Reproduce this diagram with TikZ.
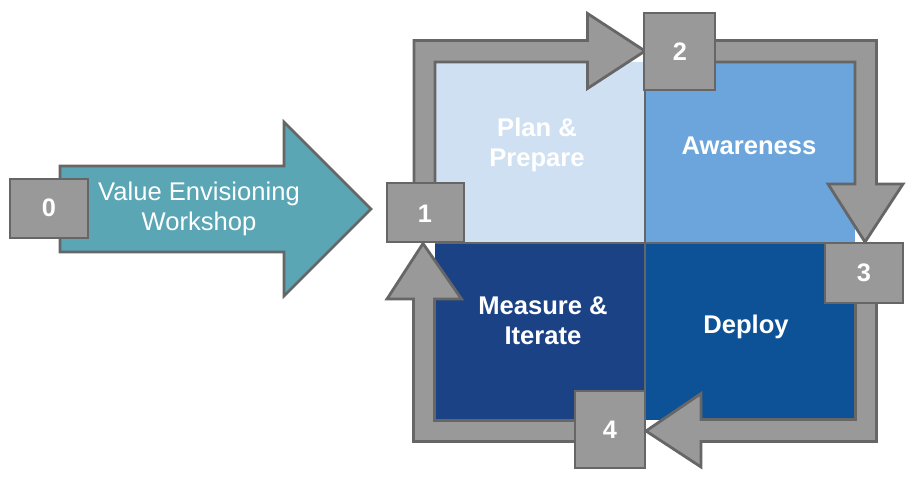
\documentclass[tikz,border=0pt]{standalone}
\usepackage{fontspec}
\setmainfont{Liberation Sans}
\definecolor{planc}{HTML}{CFE0F2}
\definecolor{awarec}{HTML}{6CA5DB}
\definecolor{deployc}{HTML}{0D5296}
\definecolor{measurec}{HTML}{1C4286}
\definecolor{tealc}{HTML}{5AA6B5}
\definecolor{greyc}{HTML}{999999}
\definecolor{edgec}{HTML}{666666}
\newcommand{\bx}[7]{\node[numbox,minimum width=#4*0.75pt,minimum height=#5*0.75pt] (#1) at (#2,#3) {};\node[numtext] (#6) at (#7) {#1};}
\tikzset{
  numbox/.style={draw=edgec,fill=greyc,line width=2.1pt,inner sep=0pt,rectangle},
  numtext/.style={text=white,font=\fontsize{19pt}{22pt}\selectfont\bfseries,inner sep=0pt},
  flow/.style={draw=edgec,fill=greyc,line width=2.1pt,line join=miter,miter limit=10},
  label/.style={text=white,font=\fontsize{19.2pt}{22.5pt}\selectfont\bfseries,align=center,inner sep=0pt},
  plainlabel/.style={text=white,font=\fontsize{19.2pt}{22.5pt}\selectfont,align=center,inner sep=0pt}
}
\begin{document}
\begin{tikzpicture}[x=0.75pt,y=-0.75pt]
\useasboundingbox (0,0) rectangle (913,484);
% quadrants
\fill[planc] (435,62) rectangle (645,243);
\fill[awarec] (645,62) rectangle (855,243);
\fill[measurec] (435,243) rectangle (645,420);
\fill[deployc] (645,243) rectangle (855,420);
\draw[edgec,line width=1.4pt] (645,62) -- (645,420);
\draw[edgec,line width=1.4pt] (435,243) -- (855,243);
% teal arrow
\draw[flow,fill=tealc] (60,166) -- (284,166) -- (284,122) -- (371,209) -- (284,296) -- (284,252) -- (60,252) -- cycle;
% loop arrows
\draw[flow] (414,190) -- (414,40.5) -- (587.5,40.5) -- (587.5,13.5) -- (645,51) -- (587.5,88.5) -- (587.5,62) -- (435,62) -- (435,190) -- cycle;
\draw[flow] (700,40.5) -- (876.5,40.5) -- (876.5,184) -- (903,184) -- (865,242) -- (828,184) -- (855,184) -- (855,62) -- (700,62) -- cycle;
\draw[flow] (876.5,295) -- (876.5,441.5) -- (701,441.5) -- (701,467) -- (646,431) -- (701,393.5) -- (701,419.5) -- (855.5,419.5) -- (855.5,295) -- cycle;
\draw[flow] (590,441.5) -- (413.5,441.5) -- (413.5,299) -- (387,299) -- (423,243.5) -- (461.5,299) -- (434.5,299) -- (434.5,420.5) -- (590,420.5) -- cycle;
% numbered boxes
\bx{0}{49}{208.5}{78}{59}{n0}{49,208}
\bx{1}{425.5}{212.5}{77}{59}{n1}{425,214}
\bx{2}{679.5}{51.5}{71}{77}{n2}{680,52}
\bx{3}{864}{273}{78}{60}{n3}{864,273}
\bx{4}{610}{429.5}{70}{77}{n4}{610,430}
% labels
\node[label] (plan) at (537,145) {Plan \&\\Prepare};
\node[label] (aware) at (749,146) {Awareness};
\node[label] (measure) at (543,320.5) {Measure \&\\Iterate};
\node[label] (deploy) at (746,327) {Deploy};
\node[plainlabel] (vew) at (199,209) {Value Envisioning\\Workshop};
\end{tikzpicture}
\end{document}
